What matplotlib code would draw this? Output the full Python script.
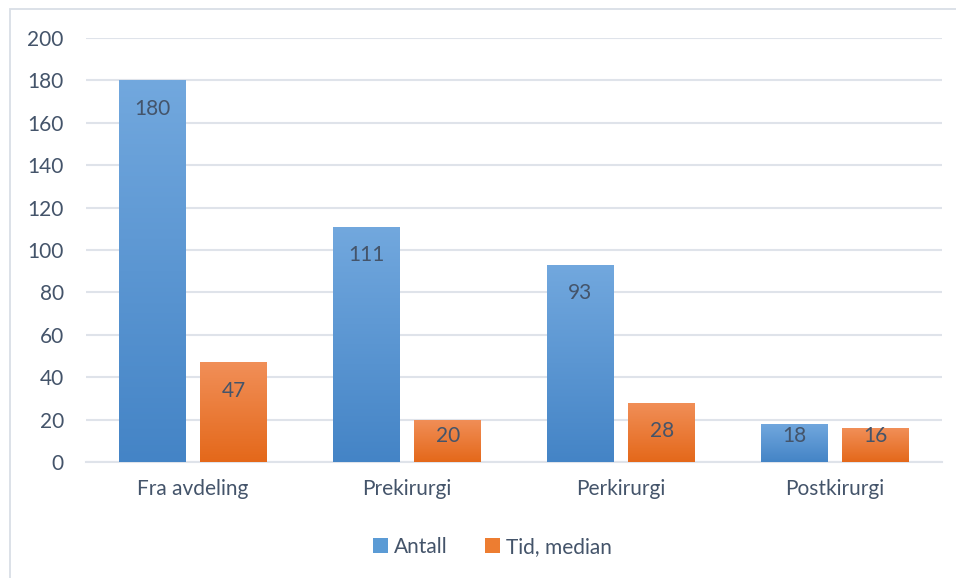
import matplotlib
matplotlib.use("Agg")
import matplotlib.pyplot as plt
import numpy as np
from matplotlib.colors import LinearSegmentedColormap
from matplotlib.patches import Rectangle, Patch

categories = ["Fra avdeling", "Prekirurgi", "Perkirurgi", "Postkirurgi"]
antall = [180, 111, 93, 18]
tid_median = [47, 20, 28, 16]
series_names = ["Antall", "Tid, median"]
yticks = [0, 20, 40, 60, 80, 100, 120, 140, 160, 180, 200]

plt.rcParams['font.family'] = ['Lato', 'DejaVu Sans']
text_color = "#44546a"
grid_color = "#dfe3ea"
fs = 15

fig = plt.figure(figsize=(9.56, 5.78), dpi=100)
# outer frame
fig.patches.append(Rectangle((10/956, -0.1), 1.2, (578-9)/578 + 0.1, transform=fig.transFigure,
                             fill=False, edgecolor="#d9dee6", linewidth=1.3))
ax = fig.add_axes([86/956, (578-462)/578, (942-86)/956, (462-38)/578])

x = np.arange(len(categories))
w = 0.31
off = 0.19
cmaps = [LinearSegmentedColormap.from_list("b", ["#4484c6", "#72a8de"]),
         LinearSegmentedColormap.from_list("o", ["#e4681a", "#f18f58"])]
legend_colors = ["#5b9bd5", "#ed7d31"]

grad = np.linspace(0, 1, 256).reshape(-1, 1)
for si, (vals, dx) in enumerate([(antall, -off), (tid_median, off)]):
    bars = ax.bar(x + dx, vals, width=w, color="none", edgecolor="none", zorder=3,
                  label=series_names[si])
    for b, v in zip(bars, vals):
        x0 = b.get_x()
        im = ax.imshow(grad, extent=[x0, x0 + b.get_width(), 0, v], origin="lower",
                       cmap=cmaps[si], aspect="auto", zorder=3)
        im.set_clip_path(b)
        ly = max(v - 13.5, 12.3)
        ax.text(x0 + b.get_width()/2, ly, str(v), ha="center", va="center",
                fontsize=fs, color=text_color, zorder=5)

ax.set_xlim(-0.5, len(categories) - 0.5)
ax.set_ylim(0, 200)
ax.set_yticks(yticks)
ax.set_xticks(x)
ax.set_xticklabels(categories)
ax.tick_params(axis="both", length=0, labelsize=fs, labelcolor=text_color)
ax.tick_params(axis="y", pad=16)
ax.tick_params(axis="x", pad=12)
ax.grid(axis="y", color=grid_color, linewidth=1.5, zorder=0)
ax.set_axisbelow(True)
for s in ["top", "right", "left"]:
    ax.spines[s].set_visible(False)
ax.spines["bottom"].set_color(grid_color)
ax.spines["bottom"].set_linewidth(1.5)

handles = [Patch(facecolor=c, edgecolor="none") for c in legend_colors]
fig.legend(handles, series_names, loc="center", bbox_to_anchor=(0.515, (578-547)/578),
           ncol=2, frameon=False, fontsize=fs, labelcolor=text_color,
           handlelength=0.7, handleheight=0.7, handletextpad=0.3, columnspacing=1.8)

fig.savefig("out.png", dpi=100, facecolor="white")
